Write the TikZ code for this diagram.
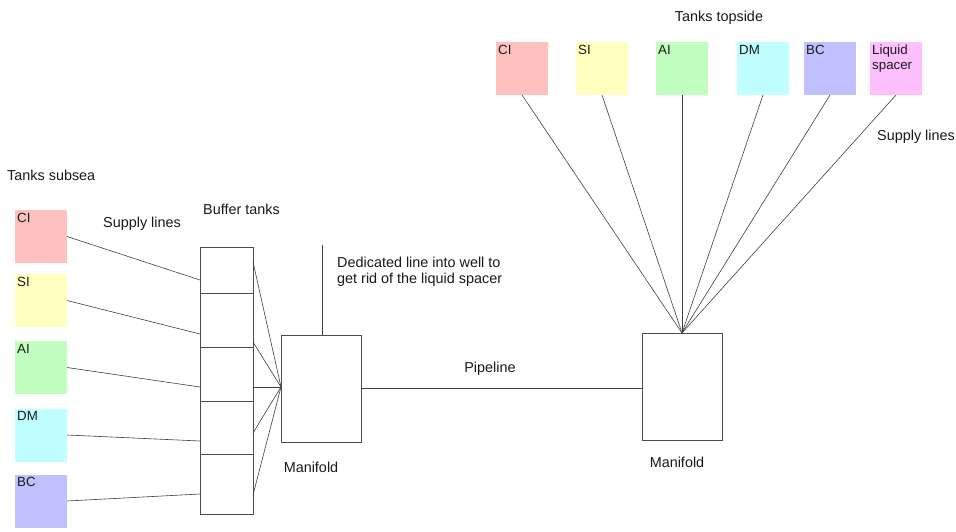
\documentclass[tikz,border=0pt]{standalone}
\usepackage{fontspec}
\setmainfont{Liberation Sans}
\begin{document}
\begin{tikzpicture}[x=1pt,y=-1pt,
  tank/.style={minimum width=52pt,minimum height=53pt,inner sep=0pt,outer sep=0pt},
  tanklabel/.style={anchor=north west,inner sep=0pt,font=\fontsize{13.3}{15}\selectfont,align=left,text=black!90},
  vessel/.style={draw=black!70,line width=0.8pt,fill=white,inner sep=0pt,outer sep=0pt},
  pipe/.style={draw=black!75,line width=0.6pt},
  caption/.style={inner sep=0pt,font=\fontsize{14.4}{16}\selectfont,text=black!90,align=left}]

\useasboundingbox[fill=white] (0,0) rectangle (956,532);

\definecolor{ciC}{HTML}{FFC0C0}
\definecolor{siC}{HTML}{FFFFC0}
\definecolor{aiC}{HTML}{C0FFC0}
\definecolor{dmC}{HTML}{C0FFFF}
\definecolor{bcC}{HTML}{C0C0FF}
\definecolor{lsC}{HTML}{FFC0FF}

% subsea tanks
\node[tank,fill=ciC] (sCI) at (41,236.5) {};
\node[tank,fill=siC] (sSI) at (41,300.5) {};
\node[tank,fill=aiC] (sAI) at (41,367.5) {};
\node[tank,fill=dmC] (sDM) at (41,435) {};
\node[tank,fill=bcC] (sBC) at (41,501) {};
\foreach \t/\l in {sCI/CI,sSI/SI,sAI/AI,sDM/DM,sBC/BC}
  \node[tanklabel] (\t-lab) at ([shift={(2pt,-3pt)}]\t.north west) {\l};

% topside tanks
\node[tank,fill=ciC] (tCI) at (522,68.5) {};
\node[tank,fill=siC] (tSI) at (602,68.5) {};
\node[tank,fill=aiC] (tAI) at (682,68.5) {};
\node[tank,fill=dmC] (tDM) at (763,68.5) {};
\node[tank,fill=bcC] (tBC) at (830,68.5) {};
\node[tank,fill=lsC] (tLS) at (896,68.5) {};
\foreach \t/\l in {tCI/CI,tSI/SI,tAI/AI,tDM/DM,tBC/BC,tLS/{Liquid\\spacer}}
  \node[tanklabel] (\t-lab) at ([shift={(2pt,-3pt)}]\t.north west) {\l};

% buffer tank stack
\node[vessel,minimum width=53pt,minimum height=46pt] (b1) at (226.5,270) {};
\node[vessel,minimum width=53pt,minimum height=54pt] (b2) at (226.5,320) {};
\node[vessel,minimum width=53pt,minimum height=54pt] (b3) at (226.5,374) {};
\node[vessel,minimum width=53pt,minimum height=53pt] (b4) at (226.5,427.5) {};
\node[vessel,minimum width=53pt,minimum height=60pt] (b5) at (226.5,484) {};

% manifolds
\node[vessel,minimum width=80pt,minimum height=107pt] (mfl) at (321,388.5) {};
\node[vessel,minimum width=80pt,minimum height=107pt] (mfr) at (682,386.5) {};

% supply lines, subsea tanks to buffer tanks
\draw[pipe] (sCI.east) -- ([yshift=13pt]b1.south west);
\draw[pipe] (sSI.east) -- ([yshift=13pt]b2.south west);
\draw[pipe] (sAI.east) -- ([yshift=14pt]b3.south west);
\draw[pipe] (sDM.east) -- ([yshift=13pt]b4.south west);
\draw[pipe] (sBC.east) -- ([yshift=20pt]b5.south west);

% buffer tanks to subsea manifold
\coordinate (mflin) at ([yshift=1.5pt]mfl.west);
\draw[pipe] ([yshift=-15pt]b1.north east) -- (mflin);
\draw[pipe] ([yshift=5pt]b2.south east) -- (mflin);
\draw[pipe] ([yshift=14pt]b3.south east) -- (mflin);
\draw[pipe] ([yshift=21pt]b4.south east) -- (mflin);
\draw[pipe] ([yshift=19pt]b5.south east) -- (mflin);

% dedicated line into the well
\coordinate (wellend) at (322,245);
\draw[pipe] ([xshift=1pt]mfl.north) -- (wellend);

% pipeline between the manifolds
\draw[pipe] (mfl.east) -- (mfl.east -| mfr.west);

% topside supply lines
\foreach \t in {tCI,tSI,tAI,tDM,tBC,tLS}
  \draw[pipe] (\t.south) -- (mfr.north);

% captions
\node[caption,anchor=mid west] (capSubsea) at (7,177.5) {Tanks subsea};
\node[caption,anchor=mid west] (capSupplyL) at (103,224.5) {Supply lines};
\node[caption,anchor=mid west] (capBuffer) at (203,211.5) {Buffer tanks};
\node[caption,anchor=north west] (capWell) at (337,256.5) {Dedicated line into well to\\get rid of the liquid spacer};
\node[caption,anchor=mid] (capPipe) at (490,369.5) {Pipeline};
\node[caption,anchor=mid] (capMfl) at (311,469.5) {Manifold};
\node[caption,anchor=mid] (capMfr) at (677,464.5) {Manifold};
\node[caption,anchor=mid] (capTop) at (719,18.5) {Tanks topside};
\node[caption,anchor=mid west] (capSupplyR) at (877,137.5) {Supply lines};
\end{tikzpicture}
\end{document}
